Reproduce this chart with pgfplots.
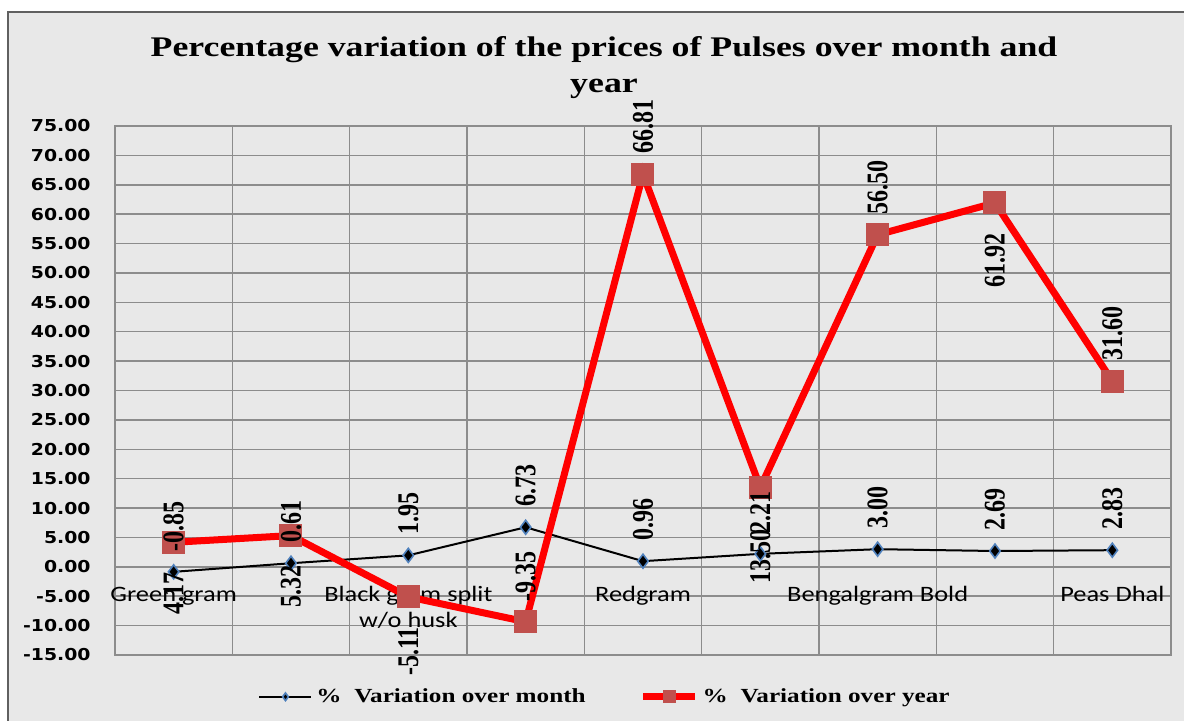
\documentclass[border=0pt]{standalone}
\usepackage{pgfplots}
\pgfplotsset{compat=1.18}
\usepackage{pgfplotstable}
\usepackage{fontspec}
\setmainfont{Liberation Serif}
\newfontfamily\titlefont{Liberation Serif}[FakeStretch=1.26]
\newfontfamily\tickfont{DejaVu Sans}[FakeStretch=1.15]
\newfontfamily\catfont{Carlito}[FakeStretch=1.2]

\definecolor{bgc}{gray}{0.91}
\definecolor{gridc}{RGB}{140,140,140}
\definecolor{sqc}{RGB}{192,80,77}
\definecolor{dmc}{RGB}{79,129,189}

% x = category, pos = 1 label above, -1 label below, -2 further below
\pgfplotstableread{
x  y     pos
1 -0.85  1
2  0.61  1
3  1.95  1
4  6.73  1
5  0.96  1
6  2.21  1
7  3.00  1
8  2.69  1
9  2.83  1
}\monthdata

\pgfplotstableread{
x  y      pos
1  4.17   -1
2  5.32   -1
3 -5.11   -1
4 -9.35    1
5 66.81    1
6 13.50   -2
7 56.50    1
8 61.92   -1
9 31.60    1
}\yeardata

\pgfplotsset{
  lbl/.style={
    draw=none, mark=none, forget plot, unbounded coords=discard,
    nodes near coords={\pgfmathprintnumber[fixed,fixed zerofill,precision=2,assume math mode=true]{\pgfplotspointmeta}},
    every node near coord/.append style={font=\bfseries\fontsize{12}{12}\selectfont,
      text=black, rotate=90, yscale=1.25, inner ysep=0pt},
  },
  lblup/.style={lbl, every node near coord/.append style={anchor=west, inner xsep=10pt}},
  lbldown/.style={lbl, every node near coord/.append style={anchor=east, inner xsep=#1}},
}

\begin{document}
\begin{tikzpicture}[x=1pt,y=1pt]
\useasboundingbox (0,0) rectangle (592,360.5);
\fill[bgc] (4.2,-20) rectangle (620,354.4);
\draw[gray!75!black, line width=1pt] (4.2,-20) -- (4.2,354.4) -- (620,354.4);
\node[font=\titlefont\bfseries\fontsize{14.2}{16}\selectfont, anchor=base] at (302,332)
  {Percentage variation of the prices of Pulses over month and};
\node[font=\titlefont\bfseries\fontsize{14.2}{16}\selectfont, anchor=base] at (302,314) {year};

\begin{axis}[
  at={(57.5pt,33pt)}, anchor=south west,
  scale only axis, width=528pt, height=264.5pt,
  xmin=0.5, xmax=9.5, ymin=-15, ymax=75,
  clip=false,
  ytick={-15,-10,...,75},
  xtick={1,...,9},
  xticklabels={Green gram,,{\begin{tabular}[t]{@{}c@{}}Black gram split\\w/o husk\end{tabular}},,Redgram,,Bengalgram Bold,,Peas Dhal},
  minor xtick={1.5,2.5,...,8.5},
  xminorgrids, ymajorgrids,
  grid style={gridc, line width=0.75pt},
  minor grid style={gridc, line width=0.75pt},
  axis line style={gridc, line width=0.75pt},
  major tick length=0pt, minor tick length=0pt,
  yticklabel={\pgfmathprintnumber[fixed,fixed zerofill,precision=2,assume math mode=true]{\tick}},
  yticklabel style={font=\tickfont\bfseries\fontsize{8.2}{10}\selectfont, anchor=east, inner sep=0pt, xshift=-12pt},
  xticklabel style={font=\catfont\fontsize{11}{13}\selectfont, anchor=base, yshift=26.5pt},
  legend style={at={(0.465,-0.079)}, anchor=center, draw=none, fill=none,
    font=\titlefont\bfseries\fontsize{10}{12}\selectfont,
    legend columns=2, /tikz/every even column/.append style={column sep=25pt}},
  legend cell align=left,
  legend image code/.code={\draw[mark repeat=2,mark phase=2,#1,/tikz/every mark/.append style={scale=0.55}]
    plot coordinates {(0pt,0pt) (13pt,0pt) (26pt,0pt)};},
]
\addplot[black, line width=1pt, mark=diamond*, mark size=3.5pt,
  mark options={fill=black, draw=dmc, line width=0.8pt}]
  table[x=x, y=y] {\monthdata};
\addlegendentry{\%~~Variation over month}
\addplot[red, line width=3.5pt, mark=square*, mark size=5.5pt,
  mark options={fill=sqc, draw=sqc, line width=0pt}]
  table[x=x, y=y] {\yeardata};
\addlegendentry{\%~~Variation over year}
% data labels
\addplot[lblup] table[x=x, y=y] {\monthdata};
\addplot[lblup] table[x expr={\thisrow{pos}>0 ? \thisrow{x} : nan}, y=y] {\yeardata};
\addplot[lbldown=15pt] table[x expr={\thisrow{pos}==-1 ? \thisrow{x} : nan}, y=y] {\yeardata};
\addplot[lbldown=21pt] table[x expr={\thisrow{pos}==-2 ? \thisrow{x} : nan}, y=y] {\yeardata};
\end{axis}
\end{tikzpicture}
\end{document}
